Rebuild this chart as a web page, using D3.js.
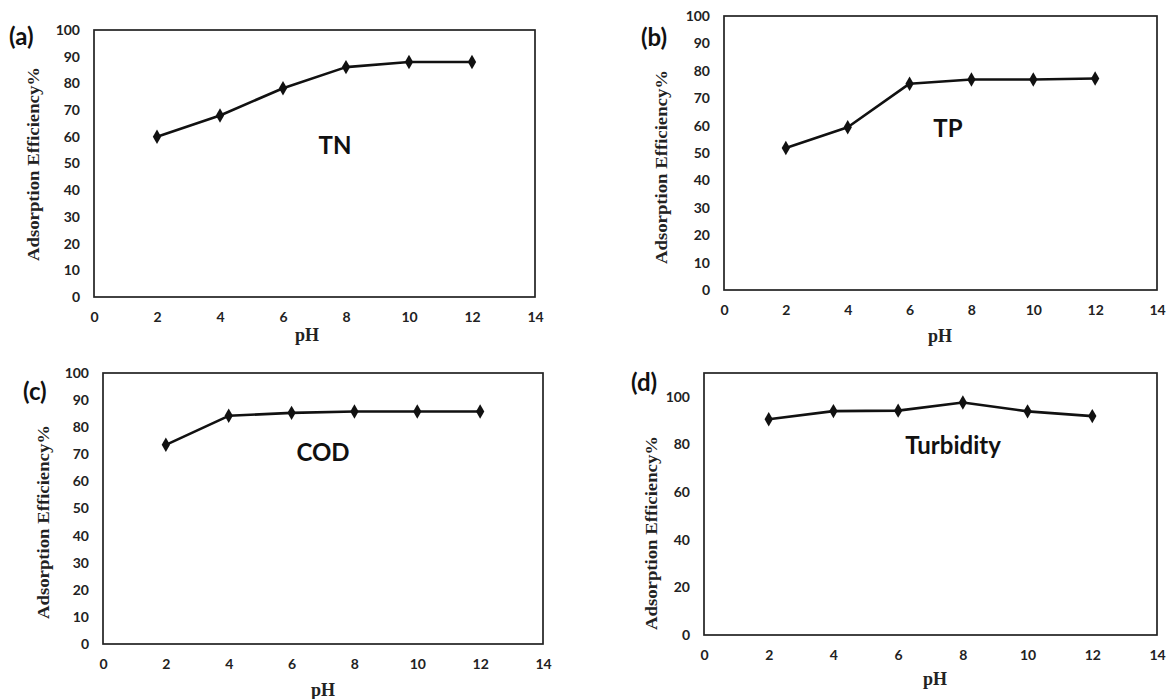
<!DOCTYPE html>
<html>
<head>
<meta charset="utf-8">
<script src="https://cdn.jsdelivr.net/npm/d3@7"></script>
<style>
  body { margin: 0; background: #fff; }
  svg { display: block; }
</style>
</head>
<body>
<svg id="chart" width="1169" height="699"></svg>
<script>
var d3 = window.d3;

// data
var pH = [2, 4, 6, 8, 10, 12];
var tnEfficiency = [60, 68, 78.2, 86.1, 88, 88];
var tpEfficiency = [51.8, 59.4, 75.3, 76.8, 76.8, 77.2];
var codEfficiency = [73.5, 84.2, 85.3, 85.8, 85.8, 85.8];
var turbidityEfficiency = [90.6, 94, 94.2, 97.6, 93.9, 91.9];

var xTicks = [0, 2, 4, 6, 8, 10, 12, 14];
var yTicks100 = [0, 10, 20, 30, 40, 50, 60, 70, 80, 90, 100];
var yTicksTurbidity = [0, 20, 40, 60, 80, 100];

var panelLetters = ['(a)', '(b)', '(c)', '(d)'];
var panelNames = ['TN', 'TP', 'COD', 'Turbidity'];

var xTitle = 'pH';
var yTitle = 'Adsorption Efficiency%';

// layout of each panel (plot box in page pixels)
var panels = [
  { values: tnEfficiency, yMax: 100, yTicks: yTicks100,
    box: { x0: 94, x1: 535, y0: 30, y1: 297 },
    letter: [9, 37], name: [335, 146], yLab: [33, 164], xLab: [307, 335] },
  { values: tpEfficiency, yMax: 100, yTicks: yTicks100,
    box: { x0: 724, x1: 1157, y0: 16, y1: 290 },
    letter: [641, 38], name: [948, 129], yLab: [661, 167], xLab: [940, 336] },
  { values: codEfficiency, yMax: 100, yTicks: yTicks100,
    box: { x0: 103, x1: 543, y0: 373, y1: 644 },
    letter: [23, 392], name: [323, 453], yLab: [43, 522], xLab: [323, 690] },
  { values: turbidityEfficiency, yMax: 110, yTicks: yTicksTurbidity,
    box: { x0: 704, x1: 1157, y0: 373, y1: 635 },
    letter: [631, 383], name: [953, 446], yLab: [651, 533], xLab: [935, 679] }
];

var svg = d3.select('#chart');
var sansFont = 'Lato, "Open Sans", sans-serif';
var serifFont = '"Liberation Serif", "DejaVu Serif", serif';

panels.forEach(function(p, i) {
  var b = p.box;
  var x = d3.scaleLinear().domain([0, 14]).range([b.x0, b.x1]);
  var y = d3.scaleLinear().domain([0, p.yMax]).range([b.y1, b.y0]);
  var g = svg.append('g').attr('class', 'panel');

  g.append('rect')
    .attr('x', b.x0).attr('y', b.y0)
    .attr('width', b.x1 - b.x0).attr('height', b.y1 - b.y0)
    .attr('fill', 'none').attr('stroke', '#222').attr('stroke-width', 1.7);

  var xAxis = g.append('g')
    .attr('transform', 'translate(0,' + b.y1 + ')')
    .call(d3.axisBottom(x).tickValues(xTicks).tickSize(0).tickPadding(15));
  var yAxis = g.append('g')
    .attr('transform', 'translate(' + b.x0 + ',0)')
    .call(d3.axisLeft(y).tickValues(p.yTicks).tickSize(0).tickPadding(14));

  [xAxis, yAxis].forEach(function(ax) {
    ax.select('.domain').remove();
    ax.selectAll('text')
      .attr('font-family', sansFont)
      .attr('font-weight', 700)
      .attr('font-size', 14)
      .attr('fill', '#222');
  });

  var pts = pH.map(function(v, j) { return { x: v, y: p.values[j] }; });

  g.append('path')
    .datum(pts)
    .attr('fill', 'none')
    .attr('stroke', '#111')
    .attr('stroke-width', 2.6)
    .attr('stroke-linejoin', 'round')
    .attr('d', d3.line()
      .x(function(d) { return x(d.x); })
      .y(function(d) { return y(d.y); }));

  g.selectAll('.marker')
    .data(pts)
    .enter()
    .append('path')
    .attr('class', 'marker')
    .attr('fill', '#111')
    .attr('transform', function(d) {
      return 'translate(' + x(d.x) + ',' + y(d.y) + ')';
    })
    .attr('d', d3.symbol().type(d3.symbolDiamond).size(60));

  g.append('text')
    .attr('x', p.letter[0]).attr('y', p.letter[1])
    .attr('dy', '0.35em')
    .attr('font-family', sansFont)
    .attr('font-weight', 700)
    .attr('font-size', 24)
    .attr('fill', '#111')
    .text(panelLetters[i]);

  g.append('text')
    .attr('x', p.name[0]).attr('y', p.name[1])
    .attr('dy', '0.35em')
    .attr('text-anchor', 'middle')
    .attr('font-family', sansFont)
    .attr('font-weight', 700)
    .attr('font-size', 24)
    .attr('fill', '#111')
    .text(panelNames[i]);

  g.append('text')
    .attr('transform', 'translate(' + p.yLab[0] + ',' + p.yLab[1] + ') rotate(-90)')
    .attr('dy', '0.35em')
    .attr('text-anchor', 'middle')
    .attr('font-family', serifFont)
    .attr('font-weight', 700)
    .attr('font-size', 17)
    .attr('textLength', 194)
    .attr('lengthAdjust', 'spacingAndGlyphs')
    .attr('fill', '#222')
    .text(yTitle);

  g.append('text')
    .attr('x', p.xLab[0]).attr('y', p.xLab[1])
    .attr('dy', '0.35em')
    .attr('text-anchor', 'middle')
    .attr('font-family', serifFont)
    .attr('font-weight', 700)
    .attr('font-size', 18)
    .attr('fill', '#222')
    .text(xTitle);
});
</script>
</body>
</html>
